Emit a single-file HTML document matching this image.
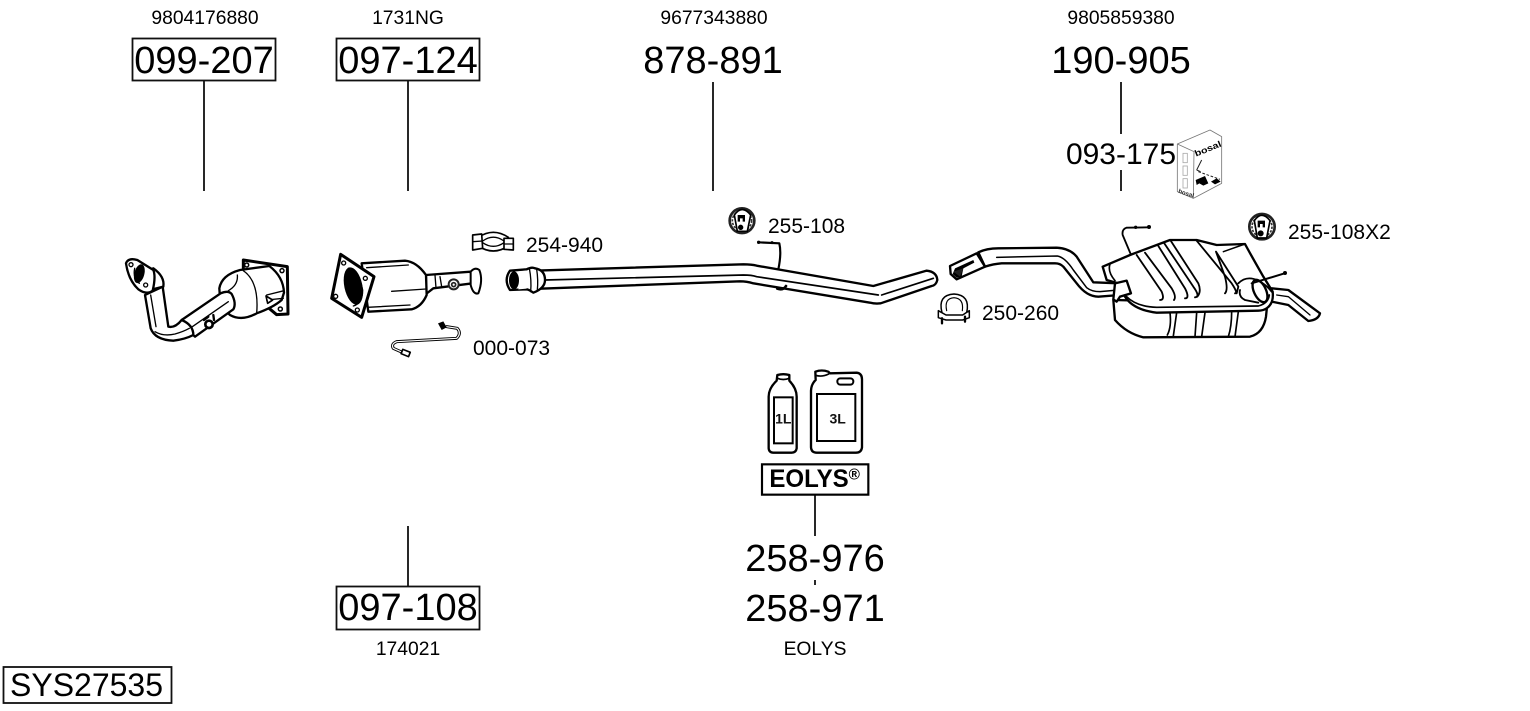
<!DOCTYPE html>
<html><head><meta charset="utf-8"><style>
html,body{margin:0;padding:0;background:#fff}
svg{display:block}
text{font-family:"Liberation Sans",Arial,sans-serif;fill:#000}
.b{font-size:38px}.s{font-size:21px}.p{font-size:19.3px}
.l{fill:none;stroke:#000;stroke-linecap:round;stroke-linejoin:round}
.f{fill:#fff;stroke:#000;stroke-linejoin:round;stroke-linecap:round}
</style></head><body>
<svg width="1530" height="711" viewBox="0 0 1530 711" xmlns="http://www.w3.org/2000/svg">
<rect width="1530" height="711" fill="#fff"/>
<!-- boxes -->
<g fill="none" stroke="#111" stroke-width="1.8">
<rect x="132.5" y="38.5" width="143" height="42"/>
<rect x="336.5" y="38.5" width="143" height="42"/>
<rect x="336.5" y="586.5" width="143" height="43"/>
<rect x="3.5" y="667" width="168" height="36"/>
</g>
<!-- leader lines -->
<g stroke="#111" stroke-width="1.8">
<path d="M204 80V191M408 80V191M713 82V191M1121 82V134M1121 170V191M408 526V586M815 494V536M815 580V585"/>
</g>
<!-- text -->
<text class="p" x="205" y="24" text-anchor="middle">9804176880</text>
<text class="p" x="408" y="24" text-anchor="middle">1731NG</text>
<text class="p" x="714" y="24" text-anchor="middle">9677343880</text>
<text class="p" x="1121" y="24" text-anchor="middle">9805859380</text>
<text class="b" x="204" y="73" text-anchor="middle">099-207</text>
<text class="b" x="408" y="73" text-anchor="middle">097-124</text>
<text class="b" x="713" y="73" text-anchor="middle">878-891</text>
<text class="b" x="1121" y="73" text-anchor="middle">190-905</text>
<text x="1121" y="164" text-anchor="middle" style="font-size:30px">093-175</text>
<text class="s" x="526" y="252">254-940</text>
<text class="s" x="768" y="233">255-108</text>
<text class="s" x="982" y="320">250-260</text>
<text class="s" x="1288" y="239">255-108X2</text>
<text class="s" x="473" y="355">000-073</text>
<text class="b" x="815" y="571" text-anchor="middle">258-976</text>
<text class="b" x="815" y="621" text-anchor="middle">258-971</text>
<text class="b" x="408" y="620" text-anchor="middle">097-108</text>
<text class="p" x="408" y="655" text-anchor="middle">174021</text>
<text class="p" x="815" y="655" text-anchor="middle">EOLYS</text>
<text x="10" y="696" style="font-size:32px">SYS27535</text>

<!-- left catalytic converter & DPF (crop 1 coordinates) -->
<g transform="translate(100 220) scale(.33333)">
 <!-- rear flange -->
 <path class="f" stroke-width="9" d="M430 120L562 140L564 282L530 284L430 200Z"/>
 <!-- cat body -->
 <path class="f" stroke-width="7" d="M358 205Q365 165 420 150L508 138Q550 170 552 218L545 240Q520 262 470 280Q425 305 390 285Q360 260 358 205Z"/>
 <path class="l" stroke-width="4" d="M412 165Q415 195 385 212M430 152Q478 185 470 280M500 225L552 212M500 240L550 235"/>
 <path class="f" stroke-width="5" d="M498 228L518 240L503 250Z"/>
 <circle cx="440" cy="135" r="6" fill="#fff" stroke="#000" stroke-width="4.5"/>
 <circle cx="546" cy="152" r="6" fill="#fff" stroke="#000" stroke-width="4.5"/>
 <circle cx="541" cy="267" r="6" fill="#fff" stroke="#000" stroke-width="4.5"/>
 <!-- diagonal pipe -->
 <path class="f" stroke-width="7" d="M245 300L362 220Q385 210 395 222Q410 250 400 268L285 350L262 330Z"/>
 <path class="l" stroke-width="4" d="M270 325L385 245"/>
 <!-- elbow pipe -->
 <path class="f" stroke-width="7" d="M135 225L152 325Q165 360 220 362Q255 358 280 345Q280 315 245 300Q225 325 205 320L188 200Z"/>
 <path class="l" stroke-width="4" d="M152 225L168 320M165 335Q190 350 225 342Q250 335 268 325"/>
 <path class="f" stroke-width="7" d="M130 215L190 200Q195 170 160 145L130 160Z"/>
 <path class="f" stroke-width="7" d="M78 130Q85 112 112 120L160 150Q168 170 158 212Q140 226 115 208Q85 180 78 130Z"/>
 <ellipse cx="118" cy="161" rx="15" ry="29" transform="rotate(15 118 161)" fill="#000"/>
 <path class="l" stroke-width="4" d="M104 145Q98 175 118 190"/>
 <circle cx="93" cy="134" r="6" fill="#fff" stroke="#000" stroke-width="4"/>
 <circle cx="137" cy="195" r="6" fill="#fff" stroke="#000" stroke-width="4"/>
 <circle cx="327" cy="313" r="11" fill="#fff" stroke="#000" stroke-width="8"/>
 <path class="l" stroke-width="7" d="M312 300L325 290M340 285L342 300"/>

 <!-- DPF -->
 <path class="f" stroke-width="7" d="M978 165L1112 155L1118 190L1000 205L978 222Z"/>
 <path class="l" stroke-width="4" d="M1005 165L1008 204M1020 170L1025 200"/>
 <path class="f" stroke-width="7" d="M785 130L915 122Q950 125 978 165L980 225Q965 260 935 268L805 275Z"/>
 <path class="l" stroke-width="4" d="M875 214L978 207M800 143L925 135M803 262L930 255"/>
 <path class="f" stroke-width="9" d="M722 103L822 170L785 292L695 235Z"/>
 <ellipse cx="760" cy="198" rx="27" ry="57" transform="rotate(-12 760 198)" fill="#000"/>
 <path class="l" stroke-width="4" d="M745 145Q772 140 788 210Q788 250 760 258"/>
 <circle cx="731" cy="129" r="6" fill="#fff" stroke="#000" stroke-width="4"/>
 <circle cx="796" cy="175" r="6" fill="#fff" stroke="#000" stroke-width="4"/>
 <circle cx="707" cy="229" r="6" fill="#fff" stroke="#000" stroke-width="4"/>
 <circle cx="772" cy="270" r="6" fill="#fff" stroke="#000" stroke-width="4"/>
 <path class="f" stroke-width="6" d="M1112 155Q1125 140 1138 150Q1150 180 1135 220Q1120 225 1112 195Z"/>
 <circle cx="1061" cy="193" r="15" fill="#fff" stroke="#222" stroke-width="6"/>
 <circle cx="1061" cy="194" r="6" fill="#fff" stroke="#222" stroke-width="5"/>
 <!-- clamp -->
 <path class="l" stroke-width="5" d="M1135 52Q1180 22 1225 52M1135 78Q1180 108 1225 78"/>
 <path class="l" stroke-width="4" d="M1148 63Q1180 40 1212 63M1148 68Q1180 90 1212 68"/>
 <path class="f" stroke-width="5" d="M1118 45L1145 42L1148 85L1118 90Z"/>
 <path class="f" stroke-width="5" d="M1212 55L1240 55L1240 90L1212 88Z"/>
 <path class="l" stroke-width="4" d="M1118 65L1148 63M1212 72L1240 72"/>
 <!-- sensor -->
 <path class="l" stroke-width="9" d="M1040 320L1072 325Q1085 340 1070 355L890 365Q872 372 880 385L925 405"/>
 <path class="l" stroke-width="3.5" style="stroke:#fff" d="M1040 320L1072 325Q1085 340 1070 355L890 365Q872 372 880 385L925 405"/>
 <path d="M1014 310L1030 304L1040 322L1025 330Z" fill="#000"/>
 <rect x="905" y="392" width="24" height="14" transform="rotate(22 917 399)" class="f" stroke-width="5"/>
</g>

<!-- intermediate pipe (crop 2 coordinates) -->
<g transform="translate(490 200) scale(.33333)">
 <path class="f" stroke-width="7" d="M130 212L760 193Q785 193 800 197L1150 258L1310 212Q1340 215 1342 240Q1338 256 1325 258L1172 310Q1155 312 1140 308L790 250Q770 244 750 244L150 266Z"/>
 <path class="l" stroke-width="5" d="M165 240L760 225Q785 225 800 230L1165 285M1175 285L1330 235"/>
 <path class="f" stroke-width="7" d="M60 212L110 208Q125 200 135 205Q165 210 165 240Q165 265 130 278Q115 268 110 268L60 270Q40 240 60 212Z"/>
 <path class="l" stroke-width="4" d="M118 205Q125 240 122 275M140 208Q145 240 142 270"/>
 <ellipse cx="72" cy="241" rx="15" ry="27" fill="#000"/>
 <path d="M80 215Q95 240 85 268L110 266L110 212Z" fill="#fff"/>
 <path class="l" stroke-width="6.5" d="M805 127L868 130Q875 160 865 208"/>
 <circle cx="806" cy="127" r="5" fill="#000"/><circle cx="846" cy="128" r="4.5" fill="#000"/>
 <path class="l" stroke-width="8" d="M862 266Q880 272 888 258"/>
 <!-- hanger -->
 <circle cx="756" cy="62" r="37" fill="#fff" stroke="#222" stroke-width="8"/>
 <circle cx="756" cy="62" r="29" fill="none" stroke="#333" stroke-width="5" stroke-dasharray="7 4"/>
 <path d="M733 45Q756 12 782 45L772 94L742 94Z" fill="#fff" stroke="#000" stroke-width="5"/>
 <circle cx="752" cy="82" r="8" fill="#000"/>
 <path d="M743 45h22v20h-7v-10h-8v10h-7z" fill="#000"/>
</g>

<!-- rear clamp, muffler (crop 3 coordinates) -->
<g transform="translate(930 120) scale(.33333)">
 <!-- clamp 250-260 -->
 <path class="l" stroke-width="4.5" d="M36 578Q22 525 72 522Q122 525 110 578"/>
 <path class="l" stroke-width="3.5" d="M50 572Q42 535 72 533Q102 535 97 572"/>
 <path class="f" stroke-width="4.5" d="M25 572L48 585L98 585L118 572L118 593L98 600L48 600L25 593Z"/>
 <path class="l" stroke-width="7" d="M36 595V610M105 590V605"/>
 <!-- inlet pipe -->
 <path class="f" stroke-width="7" d="M145 397Q170 385 205 385L380 383Q420 385 440 410L490 487L565 490L570 525L505 530Q470 530 440 490L400 440Q390 430 375 430L215 430Q190 432 165 440Z"/>
 <path class="l" stroke-width="4.5" d="M200 412L382 408Q405 412 430 450L470 503Q485 515 510 515L565 510"/>
 <path class="f" stroke-width="7" d="M60 438L140 400L165 440L80 478L62 462Z"/>
 <path d="M75 445L130 420L133 428L100 445L95 470L80 473L68 462Z" fill="#000"/>
 <path d="M70 455L100 445L90 470Z" fill="#222"/>
 <!-- tail pipe -->
 <path class="f" stroke-width="7" d="M1025 505L1075 510L1170 580Q1165 600 1135 603L1075 555L1025 545Z"/>
 <path class="l" stroke-width="4" d="M1040 525L1075 530L1140 585"/>
 <!-- lower shell -->
 <path class="f" stroke-width="7" d="M550 540L555 600Q590 640 640 652L960 650Q1000 640 1008 590L1012 550Z"/>
 <path class="l" stroke-width="5" d="M720 578Q725 620 712 645M740 578L730 648M825 578L815 650M800 578L795 650M905 575Q905 620 895 650M925 575L915 650"/>
 <!-- upper shell -->
 <path class="f" stroke-width="7" d="M518 440L600 405L720 360L800 360L860 375L945 372Q960 400 1000 470L1028 515Q1032 550 1010 565Q1000 572 985 572L680 578Q610 570 585 530L565 490L530 480Z"/>
 <path class="l" stroke-width="5" d="M540 432Q532 455 555 482M590 530Q620 560 680 562L985 558Q1015 550 1018 525"/>
 <!-- ribs -->
 <path class="l" stroke-width="5.5" d="M620 405L695 515Q705 540 690 540M645 398L725 505Q740 530 732 540M685 378L765 505Q780 535 765 535M703 370L790 500Q812 530 795 532M722 362L805 490Q815 515 802 530M800 362L905 490Q925 520 915 520M858 395L885 470Q895 510 885 520M858 395L925 500L920 520"/>
 <path class="l" stroke-width="4.5" d="M880 395L945 372"/>
 <!-- tail loop -->
 <path class="l" stroke-width="5.5" d="M925 490Q950 465 985 482Q1010 495 1025 515M930 510Q925 530 945 540L985 548"/>
 <ellipse cx="990" cy="513" rx="18" ry="36" transform="rotate(-25 990 513)" fill="none" stroke="#000" stroke-width="7"/>
 <path class="l" stroke-width="6" d="M965 490L1064 460"/>
 <circle cx="1065" cy="459" r="6" fill="#000"/>
 <!-- bent hanger wire -->
 <path class="l" stroke-width="5.5" d="M655 322L590 323Q575 328 578 345L602 402"/>
 <circle cx="657" cy="321" r="6" fill="#000"/><circle cx="617" cy="322" r="5" fill="#000"/>
 <!-- inlet flange on muffler -->
 <path class="f" stroke-width="7" d="M555 490L590 482L603 520L570 530L560 545L550 538Z"/>
 <!-- hanger -->
 <circle cx="996" cy="320" r="38" fill="#fff" stroke="#222" stroke-width="8"/>
 <circle cx="996" cy="320" r="30" fill="none" stroke="#333" stroke-width="5" stroke-dasharray="7 4"/>
 <path d="M973 302Q995 270 1020 302L1010 354L982 354Z" fill="#fff" stroke="#000" stroke-width="5"/>
 <circle cx="992" cy="340" r="9" fill="#000"/>
 <path d="M983 302h22v20h-7v-10h-8v10h-7z" fill="#000"/>
 <!-- kit box -->
 <path fill="#fff" stroke="#777" stroke-width="2.5" stroke-linejoin="round" d="M742 72L840 30L875 50L875 190L790 235L742 215Z"/>
 <path fill="none" stroke="#777" stroke-width="2.5" d="M742 72L792 95L790 235"/>
 <rect x="759" y="100" width="13" height="28" fill="none" stroke="#aaa" stroke-width="2.5"/>
 <rect x="759" y="138" width="13" height="28" fill="none" stroke="#aaa" stroke-width="2.5"/>
 <rect x="759" y="176" width="13" height="28" fill="none" stroke="#aaa" stroke-width="2.5"/>
 <text x="0" y="0" transform="translate(798 110) rotate(-22)" style="font-size:26px;font-weight:700;fill:#000" textLength="84" lengthAdjust="spacingAndGlyphs">bosal</text>
 <text x="0" y="0" transform="translate(744 218) rotate(18)" style="font-size:18px;font-weight:700;fill:#222" textLength="48" lengthAdjust="spacingAndGlyphs">bosal</text>
 <path fill="none" stroke="#222" stroke-width="3" d="M800 150L815 120M800 150L812 155"/>
 <path fill="#000" d="M797 180L825 168L835 190L820 197L808 190L800 195Z"/>
 <path fill="#000" d="M843 185L860 175L872 185L855 193Z"/>
 <path fill="none" stroke="#222" stroke-width="3" stroke-dasharray="8 5" d="M805 155L870 178"/>
</g>

<!-- bottles (crop 4 coordinates) -->
<g transform="translate(750 360) scale(.33333)">
 <path class="f" stroke-width="7" d="M82 45Q100 40 118 45L118 62Q140 85 140 110L140 265Q138 278 125 278L70 278Q57 278 56 265L56 110Q56 85 80 62Z"/>
 <rect x="72" y="112" width="56" height="138" fill="none" stroke="#000" stroke-width="6"/>
 <text x="100" y="190" text-anchor="middle" style="font-size:42px;font-weight:700;fill:#111">1L</text>
 <path class="l" stroke-width="5" d="M82 55Q100 62 118 55"/>
 <path class="f" stroke-width="7" d="M196 35Q215 28 235 35L240 40L320 38Q336 40 336 58L336 262Q334 278 318 278L200 278Q184 278 183 262L183 92Q184 72 197 60Z"/>
 <rect x="201" y="102" width="115" height="141" fill="none" stroke="#000" stroke-width="6"/>
 <rect x="262" y="55" width="48" height="19" rx="9" fill="none" stroke="#000" stroke-width="6"/>
 <path class="l" stroke-width="5" d="M197 46Q215 52 236 42"/>
 <text x="263" y="190" text-anchor="middle" style="font-size:42px;font-weight:700;fill:#111">3L</text>
 <rect x="36" y="313" width="319" height="91" fill="#fff" stroke="#000" stroke-width="6.5"/>
 <text x="58" y="381" style="font-size:76px;font-weight:700;fill:#000" textLength="238" lengthAdjust="spacingAndGlyphs">EOLYS</text>
 <text x="296" y="358" style="font-size:46px;font-weight:700;fill:#000">®</text>
</g>
</svg>
</body></html>
